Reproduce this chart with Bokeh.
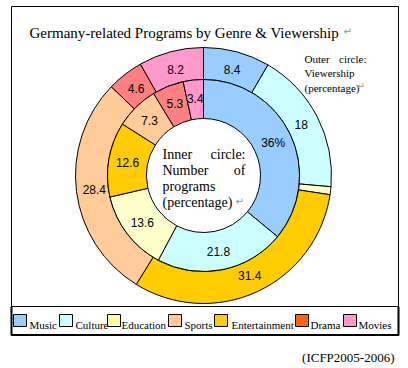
import numpy as np
from bokeh.plotting import figure
from bokeh.models import Range1d
from bokeh.core.properties import value
from bokeh.embed import file_html
from bokeh.resources import INLINE

# ---------------- data ----------------
genres = ["Music", "Culture", "Education", "Sports", "Entertainment", "Drama", "Movies"]
legend_colors = ["#99CCFF", "#CCFFFF", "#FFFF99", "#FFCC99", "#FFCC00", "#FF6600", "#FF99CC"]

inner_genres = ["Music", "Culture", "Education", "Entertainment", "Sports", "Drama", "Movies"]
inner_values = [36.0, 21.8, 13.6, 12.6, 7.3, 5.3, 3.4]
inner_labels = ["36%", "21.8", "13.6", "12.6", "7.3", "5.3", "3.4"]

outer_genres = ["Music", "Culture", "Education", "Entertainment", "Sports", "Drama", "Movies"]
outer_values = [8.4, 18.0, 1.0, 31.4, 28.4, 4.6, 8.2]
outer_labels = ["8.4", "18", "", "31.4", "28.4", "4.6", "8.2"]

title_text = "Germany-related Programs by Genre & Viewership"
source_text = "(ICFP2005-2006)"

ring_colors = {"Music": "#99CCFF", "Culture": "#CCFFFF", "Education": "#FFFFCC",
               "Sports": "#FFCC99", "Entertainment": "#FFCC00", "Drama": "#FF8080",
               "Movies": "#FF99CC"}

# ---------------- layout ----------------
W, H = 408, 368
def Y(yref):
    return 368 - yref

p = figure(width=W, height=H, x_range=Range1d(0, 408), y_range=Range1d(0, 368),
           output_backend="svg", toolbar_location=None, min_border=0,
           x_axis_type=None, y_axis_type=None)
p.grid.visible = False
p.outline_line_color = None
p.background_fill_color = "white"
p.border_fill_color = "white"

cx, cy = 203, Y(175)
R_hole, R_mid, R_out = 57, 96, 128

serif = value("Liberation Serif")
sans = value("Liberation Sans")

def ring(genre_list, vals, labels, r0, r1, rlab):
    v = np.array(vals, dtype=float)
    cum = np.concatenate([[0], np.cumsum(v)]) / v.sum()
    starts = np.pi / 2 - 2 * np.pi * cum[1:]
    ends = np.pi / 2 - 2 * np.pi * cum[:-1]
    cols = [ring_colors[g] for g in genre_list]
    p.annular_wedge(x=cx, y=cy, inner_radius=r0, outer_radius=r1,
                    start_angle=list(starts), end_angle=list(ends),
                    fill_color=cols, line_color="black", line_width=1)
    mids = np.pi / 2 - 2 * np.pi * (cum[:-1] + cum[1:]) / 2
    lx = list(cx + rlab * np.cos(mids))
    ly = list(cy + rlab * np.sin(mids))
    p.text(x=lx, y=ly, text=labels, text_align="center", text_baseline="middle",
           text_font=sans, text_font_size="12px", text_color="black")

ring(outer_genres, outer_values, outer_labels, R_mid, R_out, 110)
ring(inner_genres, inner_values, inner_labels, R_hole, R_mid, 77)

# ---------------- frame ----------------
p.segment(x0=[11, 11, 398, 11, 11], y0=[Y(6), Y(6), Y(6), Y(335), Y(306)],
          x1=[398, 11, 398, 398, 398], y1=[Y(6), Y(335), Y(335), Y(335), Y(306)],
          line_color="black", line_width=1)
p.segment(x0=[11, 398, 11], y0=[Y(306), Y(306), Y(334.5)],
          x1=[11, 398, 398], y1=[Y(335), Y(335), Y(334.5)],
          line_color="black", line_width=2)

# ---------------- texts ----------------
p.text(x=[29], y=[Y(32)], text=[title_text], text_font=serif, text_font_size="15px",
       text_align="left", text_baseline="alphabetic", text_color="black")

# outer circle note
p.text(x=[304, 304, 304], y=[Y(58), Y(72.5), Y(87)],
       text=["Outer", "Viewership", "(percentage)"], text_font=serif, text_font_size="11px",
       text_align="left", text_baseline="alphabetic", text_color="black")
p.text(x=[366], y=[Y(58)], text=["circle:"], text_font=serif, text_font_size="11px",
       text_align="right", text_baseline="alphabetic", text_color="black")

# inner circle note
p.text(x=[162, 162, 162, 162], y=[Y(154), Y(170), Y(186), Y(202)],
       text=["Inner", "Number", "programs", "(percentage)"], text_font=serif,
       text_font_size="14px", text_align="left", text_baseline="alphabetic", text_color="black")
p.text(x=[245, 245], y=[Y(154), Y(170)], text=["circle:", "of"], text_font=serif,
       text_font_size="14px", text_align="right", text_baseline="alphabetic", text_color="black")

# paragraph marks
p.text(x=[343, 356, 235], y=[Y(31), Y(86), Y(201)], text=["\u21b5", "\u21b5", "\u21b5"],
       text_font=value("DejaVu Sans"), text_font_size="10px", text_align="left",
       text_baseline="alphabetic", text_color="#909090")

# legend
sw_x = [13, 59, 107, 168, 214, 295, 343]
tx_x = [29, 75, 121, 184, 231, 310, 358]
p.quad(left=sw_x, right=[x + 13 for x in sw_x], bottom=[Y(326)] * 7, top=[Y(314)] * 7,
       fill_color=legend_colors, line_color="black", line_width=1)
p.text(x=tx_x, y=[Y(324)] * 7, text=genres, text_font=serif, text_font_size="11px",
       text_align="left", text_baseline="alphabetic", text_color="black")

p.text(x=[394], y=[Y(357)], text=[source_text], text_font=serif, text_font_size="13px",
       text_align="right", text_baseline="alphabetic", text_color="black")

open("out.html", "w").write(file_html(p, INLINE))
